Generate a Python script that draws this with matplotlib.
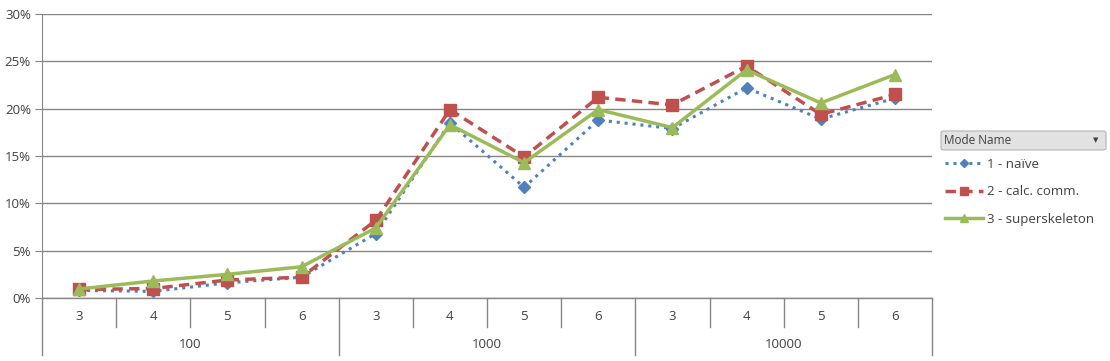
import matplotlib
matplotlib.use('Agg')
import matplotlib.pyplot as plt
import matplotlib.transforms as mtransforms
from matplotlib.patches import FancyBboxPatch
from matplotlib.ticker import PercentFormatter

# data (values in %)
groups = ['100', '1000', '10000']
subcats = ['3', '4', '5', '6']
naive = [0.8, 0.7, 1.6, 2.2, 6.8, 18.5, 11.7, 18.8, 17.9, 22.2, 18.9, 21.1]
calc_comm = [0.9, 1.0, 1.9, 2.2, 8.2, 19.9, 14.9, 21.2, 20.4, 24.5, 19.4, 21.5]
superskeleton = [0.95, 1.8, 2.5, 3.3, 7.4, 18.3, 14.3, 19.9, 18.0, 24.1, 20.6, 23.6]
series_names = ['1 - naïve', '2 - calc. comm.', '3 - superskeleton']

plt.rcParams['font.family'] = ['Open Sans', 'DejaVu Sans']
grid_c = '#868686'
text_c = '#404040'

W, H = 1110, 361
fig = plt.figure(figsize=(W / 100, H / 100), dpi=100)
ax = fig.add_axes([42 / W, 1 - 298 / H, (932 - 42) / W, (298 - 14) / H])

n = len(groups) * len(subcats)
xs = [i + 0.5 for i in range(n)]

ax.plot(xs, naive, color='#4F81BD', linestyle=(0, (1, 1.6)), lw=2.2,
        marker='D', markersize=6, label=series_names[0])
ax.plot(xs, calc_comm, color='#C0504D', linestyle=(0, (3, 1.8)), lw=2.5,
        marker='s', markersize=8, label=series_names[1])
ax.plot(xs, superskeleton, color='#9BBB59', linestyle='-', lw=2.5,
        marker='^', markersize=9, label=series_names[2])

ax.set_xlim(0, n)
ax.set_ylim(0, 30)
ax.set_yticks(range(0, 31, 5))
ax.yaxis.set_major_formatter(PercentFormatter(decimals=0))
ax.grid(axis='y', color=grid_c, lw=1)
ax.set_axisbelow(True)
ax.tick_params(axis='y', length=5, color=grid_c, labelsize=9.5, labelcolor=text_c, pad=3)
ax.set_xticks([])
for s in ['top', 'right', 'bottom']:
    ax.spines[s].set_visible(False)
ax.spines['left'].set_color(grid_c)

# two-level category axis
trans = mtransforms.blended_transform_factory(ax.transData, ax.transAxes)
y_tick = -29 / 284
y_grp = -57 / 284
ax.plot([0, n], [0, 0], transform=trans, color=grid_c, lw=1, clip_on=False)
for i in range(n + 1):
    y1 = y_grp if i % len(subcats) == 0 else y_tick
    ax.plot([i, i], [0, y1], transform=trans, color=grid_c, lw=1, clip_on=False)
for i in range(n):
    ax.text(i + 0.5, -18 / 284, subcats[i % len(subcats)], transform=trans,
            ha='center', va='center', fontsize=9.5, color=text_c)
for g, name in enumerate(groups):
    ax.text(g * len(subcats) + len(subcats) / 2, -47 / 284, name, transform=trans,
            ha='center', va='center', fontsize=9.5, color=text_c)

# legend header button
hx0, hy0, hw, hh = 941 / W, 1 - 150 / H, 165 / W, 19 / H
fig.patches.append(FancyBboxPatch((hx0, hy0), hw, hh, boxstyle='round,pad=0,rounding_size=0.004',
                                  transform=fig.transFigure, facecolor='#E2E2E2',
                                  edgecolor='#B5B5B5', lw=0.8))
fig.text(hx0 + 3 / W, hy0 + hh / 2, 'Mode Name', fontsize=8.5, color='#404040',
         ha='left', va='center')
fig.text(hx0 + hw - 10 / W, hy0 + hh / 2, '\u25BC', fontsize=5, color='#404040',
         ha='center', va='center')

fig.legend(loc='upper left', bbox_to_anchor=(941 / W, 1 - 154 / H), frameon=False,
           fontsize=9.5, labelcolor=text_c, handlelength=2.9, handletextpad=0.3,
           labelspacing=1.1, borderaxespad=0, borderpad=0.3, markerscale=0.7)

plt.savefig('out.png', dpi=100)
